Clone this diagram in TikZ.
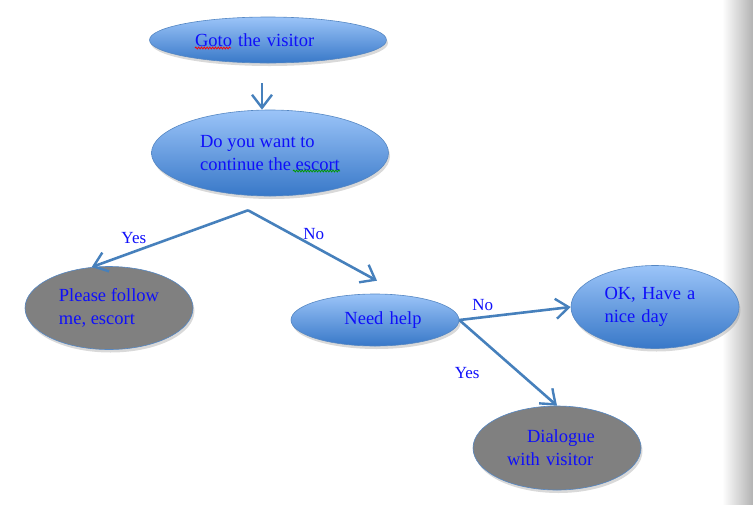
\documentclass[tikz,border=0pt]{standalone}
\usepackage{fontspec}
\setmainfont{Liberation Serif}
\usetikzlibrary{shapes.geometric,shadows,arrows.meta,decorations.pathmorphing}
\definecolor{txtblue}{RGB}{15,15,250}
\definecolor{flowblue}{RGB}{70,128,188}
\definecolor{edgeblue}{RGB}{85,135,195}
\definecolor{topblue}{RGB}{155,196,248}
\definecolor{botblue}{RGB}{56,120,200}
\newcommand{\nodefont}{\fontsize{18.5}{23}\selectfont}
\begin{document}
\begin{tikzpicture}[x=1pt,y=-1pt,
    blueoval/.style={ellipse,draw=edgeblue,line width=0.6pt,top color=topblue,bottom color=botblue,
      text=txtblue,font=\nodefont,align=left,inner sep=0pt,
      drop shadow={opacity=0.3,shadow xshift=1.5pt,shadow yshift=-3pt}},
    greyoval/.style={blueoval,top color=gray,bottom color=gray},
    flow/.style={draw=flowblue,line width=2.6pt,-{Straight Barb[length=13pt,width=20pt,line width=2.4pt]}},
    answer/.style={text=txtblue,font=\fontsize{17}{20}\selectfont,inner sep=1pt},
    spell/.style={line width=0.8pt,decorate,decoration={snake,amplitude=0.9pt,segment length=2.8pt}}]
  \useasboundingbox (0,0) rectangle (753,504);
  \shade[left color=white,right color=gray!60] (722,0) rectangle (753,504);

  \node[blueoval,minimum width=237pt,minimum height=46pt,text width=146pt] (goto) at (268,40) {Goto the visitor};
  \node[blueoval,minimum width=237pt,minimum height=86pt] (ask) at (270,153) {Do you want to\\continue the escort};
  \node[greyoval,minimum width=168pt,minimum height=83pt] (follow) at (109,308) {Please follow\\me, escort};
  \node[blueoval,minimum width=168pt,minimum height=52pt,text width=93pt,align=right] (help) at (375,320) {Need help};
  \node[blueoval,minimum width=168pt,minimum height=83pt,text width=101pt] (ok) at (655,307) {OK, Have a\\nice day};
  \node[greyoval,minimum width=168pt,minimum height=84pt,text width=100pt] (talk) at (557,448) {\hspace*{20pt}Dialogue\\with visitor};

  % spell checker marks
  \draw[spell,red] ([shift={(-73,8)}]goto.center) -- ++(36,0);
  \draw[spell,green!60!black] ([shift={(23,18)}]ask.center) -- ++(47,0);

  \draw[flow] ([shift={(-6,20)}]goto.south) -- ([xshift=-8pt]ask.north);
  \coordinate (fork) at ([shift={(-22,14)}]ask.south);
  \draw[flow] (fork) -- (follow.113) node[answer,pos=0.73,above=6pt] (yes1) {Yes};
  \draw[flow] (fork) -- ([shift={(2,-13)}]help.north) node[answer,pos=0.51,above=4pt] (no1) {No};
  \draw[flow] (help.east) -- (ok.west) node[answer,pos=0.21,above=4pt] (no2) {No};
  \draw[flow] (help.east) -- (talk.north) node[answer,pos=0.62,left=38pt] (yes2) {Yes};
\end{tikzpicture}
\end{document}
